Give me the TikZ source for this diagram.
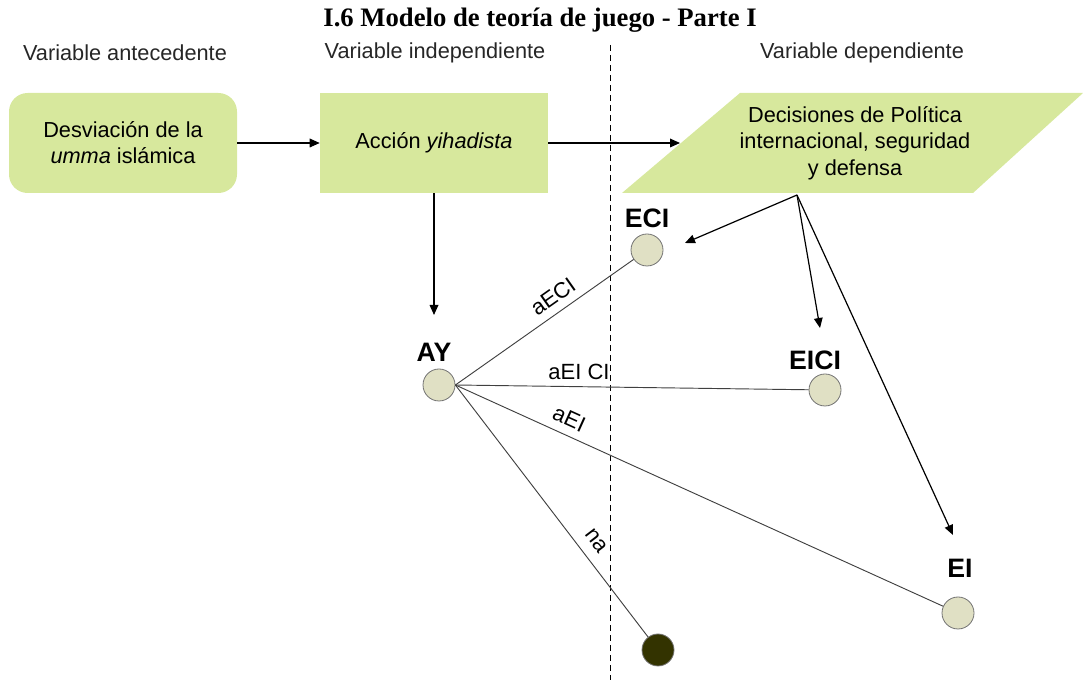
\documentclass[tikz,border=0pt]{standalone}
\usepackage{fontspec}
\setmainfont{Liberation Sans}
\newfontfamily\titlefont{Liberation Serif}
\usetikzlibrary{arrows.meta}
\definecolor{cajaverde}{RGB}{215,232,157}
\definecolor{nodoclaro}{RGB}{224,224,196}
\definecolor{nodooscuro}{RGB}{51,51,0}
\begin{document}
\begin{tikzpicture}[x=0.75pt,y=-0.75pt,
    caja/.style={fill=cajaverde,minimum width=171pt,minimum height=75pt,inner sep=0pt,align=center,font=\fontsize{16.3}{19.5}\selectfont},
    nodo/.style={circle,draw=black!55,line width=0.6pt,fill=nodoclaro,minimum size=24pt,inner sep=0pt},
    etiq/.style={font=\fontsize{20}{22}\selectfont\bfseries},
    rama/.style={font=\fontsize{16.5}{18}\selectfont,inner sep=1pt},
    encab/.style={font=\fontsize{16.3}{18}\selectfont,text=black!85},
    flecha/.style={line width=0.9pt,-{Triangle[length=7.5pt,width=6.5pt]}},
    linea/.style={draw=black!75,line width=0.7pt}]
    \useasboundingbox (0,0) rectangle (1083,680);
    % titulo y encabezados
    \node (titulo) at (540,20) {\titlefont\bfseries\fontsize{20}{22}\selectfont I.6 Modelo de teoría de juego - Parte I};
    \node[encab] (vant) at (125,53) {Variable antecedente};
    \node[encab] (vind) at (435,53) {Variable independiente};
    \node[encab] (vdep) at (862,53) {Variable dependiente};
    \draw[dash pattern=on 4.5pt off 3pt,line width=0.7pt] (610,45) -- (610,680);
    % cajas
    \node[caja,rounded corners=14pt] (desv) at (123,143) {Desviación de la\\\textit{umma} islámica};
    \node[caja] (accion) at (434,143) {Acción \textit{yihadista}};
    \fill[cajaverde] (622,193) -- (740,93) -- (1083,93) -- (973,193) -- cycle;
    \node[align=center,font=\fontsize{16.3}{20}\selectfont] (decis) at (855,143) {Decisiones de Política\\internacional, seguridad\\y defensa};
    \coordinate (decin) at (680,143);
    \coordinate (decfan) at (797,195);
    % nodos del juego
    \node[nodo] (ay) at (439,385) {};
    \node[nodo] (eci) at (647,250) {};
    \node[nodo] (eici) at (825,390) {};
    \node[nodo] (ei) at (958,613) {};
    \node[nodo,fill=nodooscuro] (na) at (658,650) {};
    \node[etiq] (lay) at (434,352) {AY};
    \node[etiq] (leci) at (647,218) {ECI};
    \node[etiq] (leici) at (815,360) {EICI};
    \node[etiq] (lei) at (960,568) {EI};
    \coordinate (pay) at (434,315);
    \coordinate (peci) at (685,243);
    \coordinate (peici) at (820,328);
    \coordinate (pei) at (953,535);
    % flechas
    \draw[flecha] (desv.east) -- (accion.west);
    \draw[flecha] (accion.east) -- (decin);
    \draw[flecha] (accion.south) -- (pay);
    \draw[flecha] (decfan) -- (peci);
    \draw[flecha] (decfan) -- (peici);
    \draw[flecha] (decfan) -- (pei);
    % ramas
    \draw[linea] (ay.east) -- (eci) node[rama,pos=0.6,sloped,above=5pt] {aECI};
    \draw[linea] (ay.east) -- (eici) node[rama,pos=0.35,above=4pt] {aEI CI};
    \draw[linea] (ay.east) -- (ei) node[rama,pos=0.22,sloped,above=5pt] {aEI};
    \draw[linea] (ay.east) -- (na) node[rama,pos=0.66,sloped,above=7pt] {na};
\end{tikzpicture}
\end{document}
